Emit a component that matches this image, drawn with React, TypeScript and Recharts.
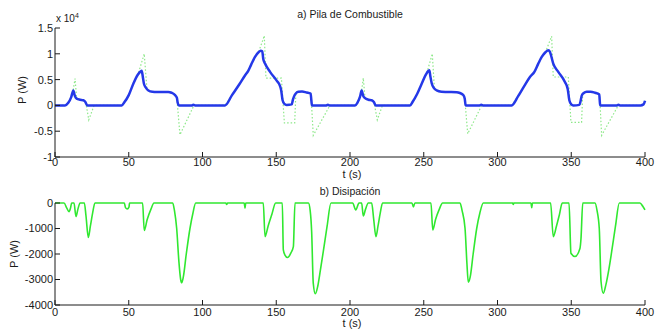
import { LineChart, Line, XAxis, YAxis } from "recharts";

// a) fuel cell power (W), blue solid
const fcTime = [
  0, 6.8, 9, 11, 12.4, 13.5, 14.7, 17, 19.2, 20.5, 21.9,
  45.2, 47, 50, 53.1, 56, 58.1, 58.8, 59.5, 60.3, 61.5, 63.3, 66, 69, 76.8, 79, 81.4, 82.6, 83.2, 84,
  93, 93.8, 95,
  115.3, 120, 125, 128.8, 131, 133, 135.6, 138, 139.5, 140.5, 141.2, 142.4, 145.8, 150.3, 152.5, 153.3, 154.3, 155.5, 157, 160.5, 161.3, 162, 163.5, 165, 167.5, 170.6, 173.3, 173.8, 174.2,
  184, 185, 186,
  203.4, 205, 206.8, 207.9, 209, 210.2, 212.5, 214.7, 216.3, 217.4,
  240.7, 242.5, 245.5, 248.6, 251.5, 253.2, 253.8, 254.5, 255.4, 256.8, 258.8, 262, 265.6, 272.3, 274.5, 276.8, 277.8, 278.4,
  288, 289, 290,
  309.6, 314, 318, 322, 325, 327.5, 330, 332.5, 334.5, 335.5, 336, 337.8, 341.2, 345.8, 347.6, 348.7, 350, 351.4, 355.5, 356.3, 357.1, 358.5, 360.5, 363, 366.1, 369, 369.3, 369.6,
  381, 382, 383,
  397, 399, 400,
];
const fcPower = [
  0, 0, 500, 1600, 2900, 1800, 1300, 1100, 1000, 700, 0,
  0, 600, 2000, 4200, 5900, 6600, 6700, 5600, 4200, 3500, 2900, 2650, 2600, 2600, 2450, 2000, 1500, 500, 0,
  0, 150, 0,
  0, 2000, 4100, 5800, 6700, 7900, 9400, 10300, 10600, 10500, 9000, 8100, 6500, 4800, 3800, 3000, 1000, 300, 100, 200, 1100, 1700, 2400, 2650, 2700, 2500, 2300, 1000, 0,
  0, 150, 0,
  0, 500, 1700, 2900, 1800, 1400, 1100, 1000, 600, 0,
  0, 700, 2200, 4200, 6000, 6700, 6800, 5600, 4300, 3400, 2900, 2650, 2600, 2550, 2400, 2000, 1300, 0,
  0, 150, 0,
  0, 1800, 3700, 5500, 6500, 8000, 9400, 10300, 10700, 10400, 10000, 8100, 6500, 4500, 3200, 1000, 200, 0, 100, 800, 1900, 2400, 2650, 2650, 2450, 2100, 1000, 0,
  0, 150, 0,
  0, 200, 900,
];

// a) demand (W), green dotted
const loadTime = [
  0, 6.8, 9, 11, 12.3, 13.6, 14.7, 17, 19.2, 20.8, 22.9, 26.5,
  45.2, 47, 50, 53.1, 56.5, 60.5, 62.3, 63.3, 66, 76.8, 79, 81.4, 82.6, 84.7, 94.2,
  115.3, 120, 125, 128.8, 131, 133, 135.6, 138, 141.9, 143, 153.5, 155.5, 162.5, 163.3, 165, 167.5, 170.6, 173.5, 175.1, 186.4,
  203.4, 205, 206.8, 207.9, 209, 210.2, 212.5, 214.7, 216.3, 218.5, 222,
  240.7, 242.5, 245.5, 248.6, 252, 255.8, 257.2, 258.8, 262, 272.3, 274.5, 276.8, 277.8, 279.8, 289.3,
  309.6, 314, 318, 322, 325, 327.5, 330, 332.5, 336.7, 337.8, 348, 349.8, 357, 357.8, 360.5, 363, 366.1, 369.2, 370.6, 381.9,
  397, 399, 400,
];
const loadPower = [
  0, 0, 500, 1600, 2900, 5200, 1300, 1100, 1000, 700, -2800, 0,
  0, 600, 2000, 4200, 6200, 10000, 3300, 2900, 2650, 2600, 2450, 2000, 1500, -5700, 0,
  0, 2000, 4100, 5800, 6700, 7900, 9400, 10300, 13500, 5300, 5300, -3400, -3400, 2500, 2650, 2700, 2500, 2300, -5800, 0,
  0, 500, 1700, 2900, 5300, 1400, 1100, 1000, 600, -2800, 0,
  0, 700, 2200, 4200, 6200, 10000, 3300, 2900, 2650, 2550, 2400, 2000, 1300, -5500, 0,
  0, 1800, 3700, 5500, 6500, 8000, 9400, 10300, 13400, 5500, 5500, -3300, -3300, 2500, 2650, 2650, 2450, 2100, -5800, 0,
  0, 200, 900,
];

// b) dissipated power (W), green solid
const disTime = [
  0, 6.1, 8, 9.5, 10.5, 11.3, 12.9, 14.2, 15.5, 17, 19.9, 21, 22.6, 24, 25.5, 27.1,
  47, 47.8, 49, 50.2, 50.5,
  59.4, 60.5, 62.5, 65, 67.1,
  79.8, 81, 82.5, 84, 85.2, 85.9, 87, 89, 91.5, 93.5, 95.4,
  115.8, 116.4, 117,
  128.3, 128.8, 129.3,
  141.2, 142.4, 144.5, 147, 149.6,
  154.1, 154.8, 155.9, 157.7, 160, 161.6, 162.7,
  171.8, 173, 174, 175.1, 176.5, 178, 180, 181.9, 184.5, 187.1,
  201.8, 203.9, 206.1, 207.9, 209, 210.5, 212.4, 214.7, 216, 217.6, 219, 220.5, 222.1,
  242, 243, 244,
  254.9, 256.1, 258, 260.5, 262.8,
  274.6, 276, 278, 279.3, 280.2, 281.5, 283.5, 285.9, 288, 290.4,
  310.3, 310.7, 311.1,
  322.7, 323.2, 323.7,
  336, 337.8, 340, 342, 343.9,
  348.5, 349.8, 352.5, 355.9, 356.6, 357.8,
  366.1, 367.5, 369, 370.2, 371.7, 373.5, 375.5, 377.4, 380, 382.6,
  396.6, 398.5, 400,
];
const disPower = [
  0, 0, -200, -340, -200, 0, 0, -530, -250, 0, 0, -500, -1350, -900, -400, 0,
  0, -180, -230, -150, 0,
  0, -1080, -650, -250, 0,
  0, -300, -1000, -2300, -3000, -3130, -2900, -2000, -1000, -400, 0,
  0, -60, 0,
  0, -200, 0,
  0, -1320, -900, -450, 0,
  0, -1840, -2040, -2140, -1950, -1710, 0,
  0, -300, -1120, -3150, -3560, -3300, -2600, -1900, -900, 0,
  0, -270, 0, 0, -510, -250, 0, 0, -600, -1320, -900, -400, 0,
  0, -150, 0,
  0, -1060, -650, -250, 0,
  0, -300, -1000, -2400, -3110, -2900, -2000, -1000, -400, 0,
  0, -60, 0,
  0, -180, 0,
  0, -1320, -900, -450, 0,
  0, -1970, -2100, -1780, -1400, 0,
  0, -300, -1000, -3080, -3540, -3200, -2600, -1910, -900, 0,
  0, -130, -270,
];

const timeTicks = [0, 50, 100, 150, 200, 250, 300, 350, 400];
const fcTicks = [-10000, -5000, 0, 5000, 10000, 15000];
const disTicks = [-4000, -3000, -2000, -1000, 0];

const fcData = fcTime.map((t, i) => ({ t, p: fcPower[i] }));
const loadData = loadTime.map((t, i) => ({ t, p: loadPower[i] }));
const disData = disTime.map((t, i) => ({ t, p: disPower[i] }));

const FONT = '"Liberation Sans", Arial, sans-serif';
const INK = "#1a1a1a";
const tickStyle = { fill: INK, fontSize: 11, fontFamily: FONT };
const blank = () => "";

function Frame({ yDomain, yTicks, fmt, xMargin, yMargin }: any) {
  return [
    <XAxis key="xb" xAxisId="b" dataKey="t" type="number" domain={[0, 400]} ticks={timeTicks}
      height={xMargin.h} tickSize={-5} tickMargin={xMargin.m} stroke={INK} tick={tickStyle} interval={0} />,
    <XAxis key="xt" xAxisId="t" orientation="top" dataKey="t" type="number" domain={[0, 400]} ticks={timeTicks}
      height={0} tickSize={-5} stroke={INK} tickFormatter={blank} interval={0} />,
    <YAxis key="yl" yAxisId="l" type="number" domain={yDomain} ticks={yTicks} width={55}
      tickSize={-5} tickMargin={yMargin} stroke={INK} tick={tickStyle} tickFormatter={fmt} interval={0} />,
    <YAxis key="yr" yAxisId="r" orientation="right" type="number" domain={yDomain} ticks={yTicks} width={0}
      tickSize={-5} stroke={INK} tickFormatter={blank} interval={0} />,
  ];
}

const txt = (style: any) => ({ position: "absolute" as const, fontFamily: FONT, color: INK, fontSize: 11, whiteSpace: "nowrap" as const, ...style });

export default function App() {
  return (
    <div style={{ position: "absolute", left: 0, top: 0, width: 656, height: 329, background: "#fff", overflow: "hidden" }}>
      <div style={{ position: "absolute", left: 0, top: 0 }}>
        <LineChart width={656} height={180} margin={{ top: 28, right: 11, bottom: 0, left: 0 }}>
          {Frame({ yDomain: [-10000, 15000], yTicks: fcTicks, fmt: (v: number) => String(v / 10000), xMargin: { h: 23, m: 6 }, yMargin: 7 })}
          <Line xAxisId="b" yAxisId="l" data={loadData} dataKey="p" type="linear" stroke="#8ee88a"
            strokeWidth={1.2} strokeDasharray="1.5 2" dot={false} isAnimationActive={false} />
          <Line xAxisId="b" yAxisId="l" data={fcData} dataKey="p" type="monotone" stroke="#2438e8"
            strokeWidth={2.5} dot={false} isAnimationActive={false} />
        </LineChart>
      </div>
      <div style={{ position: "absolute", left: 0, top: 180 }}>
        <LineChart width={656} height={149} margin={{ top: 23, right: 11, bottom: 0, left: 0 }}>
          {Frame({ yDomain: [-4000, 0], yTicks: disTicks, fmt: (v: number) => String(v), xMargin: { h: 24, m: 8 }, yMargin: 7 })}
          <Line xAxisId="b" yAxisId="l" data={disData} dataKey="p" type="monotone" stroke="#30e830"
            strokeWidth={1.6} dot={false} isAnimationActive={false} />
        </LineChart>
      </div>

      <div style={txt({ left: 350, top: 8, transform: "translateX(-50%)", fontSize: 10.5 })}>a) Pila de Combustible</div>
      <div style={txt({ left: 56, top: 12, fontSize: 10 })}>x 10<sup style={{ fontSize: 7 }}>4</sup></div>
      <div style={txt({ left: 352, top: 168, transform: "translateX(-50%)" })}>t (s)</div>
      <div style={txt({ left: 22, top: 90, transform: "translate(-50%, -50%) rotate(-90deg)" })}>P (W)</div>

      <div style={txt({ left: 350, top: 185, transform: "translateX(-50%)", fontSize: 10.5 })}>b) Disipación</div>
      <div style={txt({ left: 352, top: 317, transform: "translateX(-50%)" })}>t (s)</div>
      <div style={txt({ left: 14, top: 254, transform: "translate(-50%, -50%) rotate(-90deg)" })}>P (W)</div>
    </div>
  );
}
